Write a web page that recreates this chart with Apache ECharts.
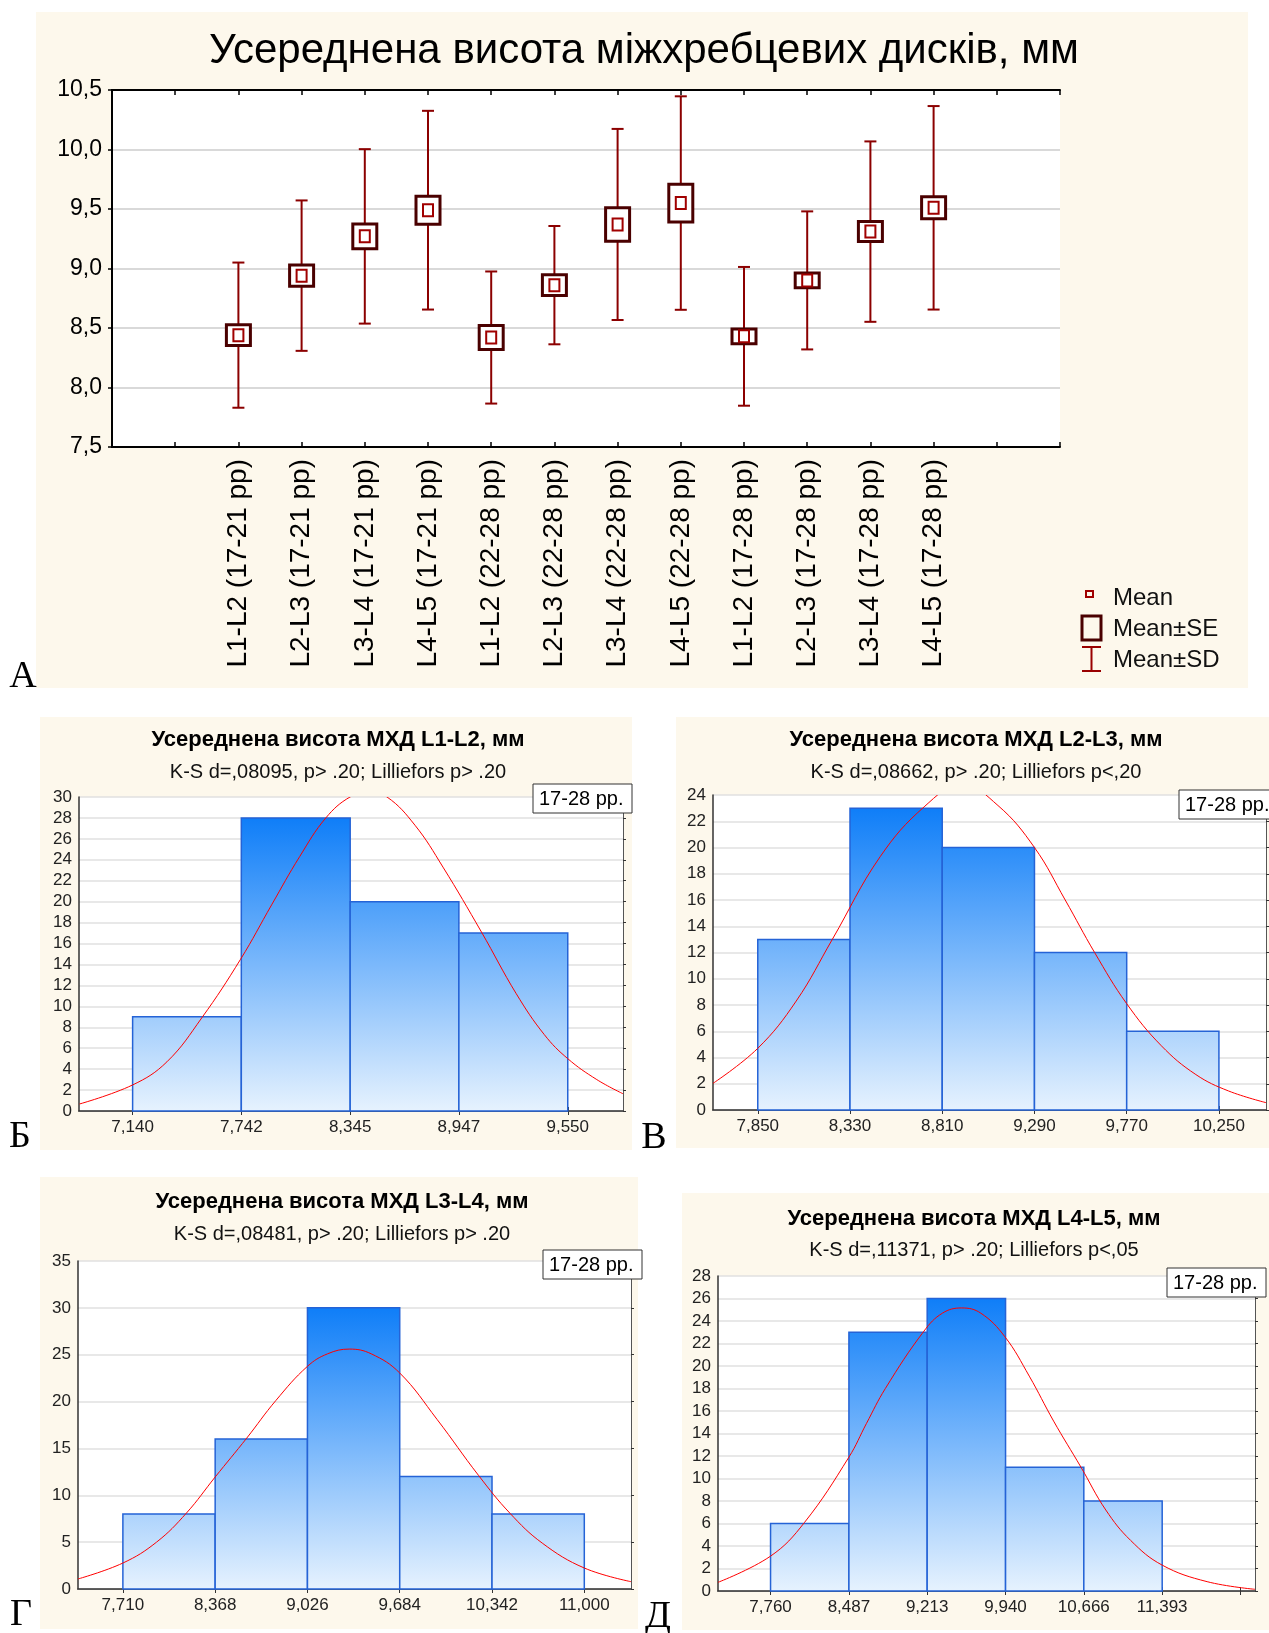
<!DOCTYPE html>
<html>
<head>
<meta charset="utf-8">
<title>Усереднена висота міжхребцевих дисків</title>
<script src="https://cdn.jsdelivr.net/npm/echarts@6/dist/echarts.min.js"></script>
<style>
  body { margin: 0; background: #fff; }
  #chart { width: 1269px; height: 1633px; }
</style>
</head>
<body>
<div id="chart"></div>
<script>
// Panel A - mean, standard error and standard deviation per disc / age group
const groupLabels = [
    'L1-L2 (17-21 рр)', 'L2-L3 (17-21 рр)', 'L3-L4 (17-21 рр)', 'L4-L5 (17-21 рр)',
    'L1-L2 (22-28 рр)', 'L2-L3 (22-28 рр)', 'L3-L4 (22-28 рр)', 'L4-L5 (22-28 рр)',
    'L1-L2 (17-28 рр)', 'L2-L3 (17-28 рр)', 'L3-L4 (17-28 рр)', 'L4-L5 (17-28 рр)'
];
const groupMeans = [8.44, 8.94, 9.27, 9.49, 8.42, 8.86, 9.37, 9.55, 8.43, 8.90, 9.31, 9.51];
const groupSE = [0.087, 0.090, 0.105, 0.118, 0.100, 0.087, 0.140, 0.159, 0.062, 0.062, 0.084, 0.092];
const groupSD = [0.610, 0.632, 0.733, 0.835, 0.555, 0.497, 0.803, 0.897, 0.583, 0.580, 0.758, 0.855];

// Histograms (17-28 pp.) - bin edges are the x tick labels, counts per bin
const l1l2Edges = [7.140, 7.742, 8.345, 8.947, 9.550];
const l1l2Counts = [9, 28, 20, 17];
const l1l2CurveX = [6.846, 7.140, 7.330, 7.523, 7.738, 7.910, 8.065, 8.210, 8.344, 8.447, 8.549, 8.704, 8.859, 9.072, 9.265, 9.420, 9.550, 9.711, 9.858];
const l1l2CurveY = [0.67, 2.49, 4.7, 8.9, 14.5, 19.7, 24.3, 28.0, 30.0, 30.4, 30.0, 27.3, 23.3, 17.1, 11.2, 7.3, 5.0, 3.0, 1.63];

const l2l3Edges = [7.850, 8.330, 8.810, 9.290, 9.770, 10.250];
const l2l3Counts = [13, 23, 20, 12, 6];
const l2l3CurveX = [7.617, 7.850, 8.050, 8.238, 8.487, 8.716, 8.912, 9.100, 9.290, 9.450, 9.603, 9.770, 9.950, 10.130, 10.300, 10.495];
const l2l3CurveY = [2.03, 4.7, 8.3, 13.0, 19.3, 23.1, 24.8, 23.2, 20.0, 16.0, 12.0, 8.1, 4.9, 2.7, 1.45, 0.56];

const l3l4Edges = [7.710, 8.368, 9.026, 9.684, 10.342, 11.000];
const l3l4Counts = [8, 16, 30, 12, 8];
const l3l4CurveX = [7.390, 7.710, 7.950, 8.163, 8.368, 8.593, 8.800, 9.026, 9.170, 9.324, 9.480, 9.684, 9.950, 10.247, 10.469, 10.700, 11.000, 11.333];
const l3l4CurveY = [1.07, 2.77, 5.0, 8.1, 11.95, 16.1, 20.1, 23.76, 25.1, 25.6, 25.1, 23.05, 18.1, 12.1, 8.1, 4.9, 2.24, 0.78];

const l4l5Edges = [7.760, 8.487, 9.213, 9.940, 10.666, 11.393];
const l4l5Ticks = [7.760, 8.487, 9.213, 9.940, 10.666, 11.393, 12.120];
const l4l5Counts = [6, 23, 26, 11, 8];
const l4l5CurveX = [7.2725, 7.760, 8.073, 8.487, 8.650, 8.825, 9.183, 9.355, 9.532, 9.710, 9.934, 10.160, 10.386, 10.640, 10.870, 11.100, 11.393, 11.810, 12.254];
const l4l5CurveY = [0.77, 3.1, 6.07, 11.9, 14.9, 18.0, 23.1, 24.7, 25.16, 24.7, 22.6, 19.1, 15.1, 11.0, 7.2, 4.5, 2.3, 0.83, 0.15];

const mainTitle = 'Усереднена висота міжхребцевих дисків, мм';
const groupBadge = '17-28 рр.';

const chart = echarts.init(document.getElementById('chart'));

const SANS = '"Liberation Sans", Arial, sans-serif';
const SERIF = '"Liberation Serif", "Times New Roman", serif';
const CREAM = '#fdf8ec';
function commaFixed (v, d) {
    return v.toFixed(d).replace('.', ',');
}

// Histogram panels: data plus where each one sits on the page
const histograms = [
    {
        title: 'Усереднена висота МХД L1-L2, мм', stats: 'K-S d=,08095, p> .20; Lilliefors p> .20',
        edges: l1l2Edges, ticks: l1l2Edges, counts: l1l2Counts, curveX: l1l2CurveX, curveY: l1l2CurveY,
        yMax: 30, yStep: 2, xMin: 6.843, xMax: 9.856,
        grid: { left: 79, top: 797, width: 544, height: 314 },
        panel: [40, 717, 592, 433], titleX: 338, titleY: 740, statsY: 772,
        badge: [533, 784], letter: ['Б', 20, 1137]
    },
    {
        title: 'Усереднена висота МХД L2-L3, мм', stats: 'K-S d=,08662, p> .20; Lilliefors p<,20',
        edges: l2l3Edges, ticks: l2l3Edges, counts: l2l3Counts, curveX: l2l3CurveX, curveY: l2l3CurveY,
        yMax: 24, yStep: 2, xMin: 7.617, xMax: 10.495,
        grid: { left: 713, top: 795, width: 553, height: 315 },
        panel: [676, 717, 593, 431], titleX: 976, titleY: 740, statsY: 772,
        badge: [1179, 790], letter: ['В', 654, 1138]
    },
    {
        title: 'Усереднена висота МХД L3-L4, мм', stats: 'K-S d=,08481, p> .20; Lilliefors p> .20',
        edges: l3l4Edges, ticks: l3l4Edges, counts: l3l4Counts, curveX: l3l4CurveX, curveY: l3l4CurveY,
        yMax: 35, yStep: 5, xMin: 7.390, xMax: 11.333,
        grid: { left: 78, top: 1261, width: 553, height: 328 },
        panel: [40, 1177, 598, 452], titleX: 342, titleY: 1202, statsY: 1234,
        badge: [543, 1250], letter: ['Г', 21, 1615]
    },
    {
        title: 'Усереднена висота МХД L4-L5, мм', stats: 'K-S d=,11371, p> .20; Lilliefors p<,05',
        edges: l4l5Edges, ticks: l4l5Ticks, counts: l4l5Counts, curveX: l4l5CurveX, curveY: l4l5CurveY,
        yMax: 28, yStep: 2, xMin: 7.2725, xMax: 12.254,
        grid: { left: 718, top: 1276, width: 537, height: 315 },
        panel: [682, 1193, 587, 437], titleX: 974, titleY: 1219, statsY: 1250,
        badge: [1167, 1268], letter: ['Д', 658, 1617]
    }
];

// Panel A error bar glyphs: whisker = SD, box = SE, small square = mean
function renderGroup (params, api) {
    const x = api.value(0), m = api.value(1), se = api.value(2), sd = api.value(3);
    const top = api.coord([x, m + sd]);
    const bot = api.coord([x, m - sd]);
    const seTop = api.coord([x, m + se]);
    const seBot = api.coord([x, m - se]);
    const c = api.coord([x, m]);
    const whisker = { stroke: '#8b0000', lineWidth: 2 };
    return {
        type: 'group',
        children: [
            { type: 'line', shape: { x1: top[0], y1: top[1], x2: bot[0], y2: bot[1] }, style: whisker },
            { type: 'line', shape: { x1: top[0] - 6, y1: top[1], x2: top[0] + 6, y2: top[1] }, style: whisker },
            { type: 'line', shape: { x1: bot[0] - 6, y1: bot[1], x2: bot[0] + 6, y2: bot[1] }, style: whisker },
            { type: 'rect', shape: { x: c[0] - 12, y: seTop[1], width: 24, height: seBot[1] - seTop[1] },
              style: { fill: '#fff', stroke: '#4a0000', lineWidth: 3 } },
            { type: 'rect', shape: { x: c[0] - 5, y: c[1] - 6, width: 10, height: 12 },
              style: { fill: '#fff', stroke: '#a00000', lineWidth: 2 } }
        ]
    };
}

// Histogram bars share one gradient running from the tallest bar down to zero
function makeBarRenderer (maxCount) {
    return function (params, api) {
        const p0 = api.coord([api.value(0), api.value(2)]);
        const p1 = api.coord([api.value(1), 0]);
        const yTop = api.coord([api.value(0), maxCount])[1];
        return {
            type: 'rect',
            shape: { x: p0[0], y: p0[1], width: p1[0] - p0[0], height: p1[1] - p0[1] },
            style: {
                fill: new echarts.graphic.LinearGradient(0, yTop, 0, p1[1], [
                    { offset: 0, color: '#0f7ef8' },
                    { offset: 1, color: '#e6f2fe' }
                ], true),
                stroke: '#2563d6',
                lineWidth: 1.5
            }
        };
    };
}

// Fitted normal curve: one smooth polyline through the read points, clipped to the plot
function makeCurveRenderer (xs, ys) {
    return function (params, api) {
        if (params.dataIndex !== 0) {
            return null;
        }
        const pts = xs.map((x, i) => api.coord([x, ys[i]]));
        const cs = params.coordSys;
        return {
            type: 'group',
            clipPath: { type: 'rect', shape: { x: cs.x, y: cs.y, width: cs.width, height: cs.height } },
            children: [{
                type: 'polyline',
                shape: { points: pts, smooth: 0.4 },
                style: { stroke: '#ff0000', lineWidth: 1, fill: 'none' }
            }]
        };
    };
}

const grids = [{ left: 112, top: 90, width: 948, height: 357, show: true, backgroundColor: '#fff', borderWidth: 0 }];
const xAxes = [
    {
        gridIndex: 0, type: 'value', min: 0, max: 15, interval: 1,
        axisLine: { lineStyle: { color: '#000', width: 2 } },
        axisTick: { inside: true, length: 5, lineStyle: { color: '#000', width: 1.5 } },
        axisLabel: {
            customValues: groupLabels.map((l, i) => i + 2),
            formatter: (v) => groupLabels[Math.round(v) - 2] || '',
            rotate: 90, margin: 12, fontSize: 28, fontFamily: SANS, color: '#000'
        },
        splitLine: { show: false }
    },
    {
        gridIndex: 0, type: 'value', position: 'top', min: 0, max: 15, interval: 1,
        axisLine: { lineStyle: { color: '#000', width: 2 } },
        axisTick: { inside: true, length: 5, lineStyle: { color: '#000', width: 1.5 } },
        axisLabel: { show: false }, splitLine: { show: false }
    }
];
const yAxes = [
    {
        gridIndex: 0, type: 'value', min: 7.5, max: 10.5, interval: 0.5,
        axisLine: { show: true, lineStyle: { color: '#000', width: 2 } },
        axisTick: { show: false },
        axisLabel: { formatter: (v) => commaFixed(v, 1), fontSize: 23, fontFamily: SANS, color: '#000', margin: 10 },
        splitLine: { show: true, lineStyle: { color: '#d9d9d9', width: 2 } }
    },
    {
        gridIndex: 0, type: 'value', position: 'right', min: 7.5, max: 10.5, interval: 0.5,
        axisLine: { show: true, lineStyle: { color: '#000', width: 2 } },
        axisTick: { show: true, inside: true, length: 4, lineStyle: { color: '#000', width: 1.5 } },
        axisLabel: { show: false }, splitLine: { show: false }
    }
];
const series = [
    {
        type: 'custom', xAxisIndex: 0, yAxisIndex: 0,
        data: groupMeans.map((m, i) => [i + 2, m, groupSE[i], groupSD[i]]),
        encode: { x: 0, y: 1 },
        renderItem: renderGroup
    }
];

histograms.forEach((h, k) => {
    grids.push(Object.assign({ show: true, backgroundColor: '#fff', borderWidth: 0 }, h.grid));
    const gi = k + 1;
    xAxes.push({
        gridIndex: gi, type: 'value', min: h.xMin, max: h.xMax,
        axisLine: { lineStyle: { color: '#333', width: 1.5 } },
        axisTick: { customValues: h.ticks, inside: true, length: 4, lineStyle: { color: '#333' } },
        axisLabel: { customValues: h.edges, formatter: (v) => commaFixed(v, 3), fontSize: 17, fontFamily: SANS, color: '#222', margin: 8 },
        splitLine: { show: false }
    });
    xAxes.push({
        gridIndex: gi, type: 'value', position: 'top', min: h.xMin, max: h.xMax,
        axisLine: { lineStyle: { color: '#555', width: 1 } },
        axisTick: { customValues: h.ticks, inside: true, length: 4, lineStyle: { color: '#333' } },
        axisLabel: { show: false }, splitLine: { show: false }
    });
    yAxes.push({
        gridIndex: gi, type: 'value', min: 0, max: h.yMax, interval: h.yStep,
        axisLine: { show: true, lineStyle: { color: '#333', width: 1.5 } },
        axisTick: { show: false },
        axisLabel: { fontSize: 17, fontFamily: SANS, color: '#222', margin: 7 },
        splitLine: { show: true, lineStyle: { color: '#e0e0e0', width: 1.5 } }
    });
    yAxes.push({
        gridIndex: gi, type: 'value', position: 'right', min: 0, max: h.yMax, interval: h.yStep,
        axisLine: { show: true, lineStyle: { color: '#555', width: 1 } },
        axisTick: { show: true, length: 3, lineStyle: { color: '#333' } },
        axisLabel: { show: false }, splitLine: { show: false }
    });
    series.push({
        type: 'custom', xAxisIndex: 2 + 2 * k, yAxisIndex: 2 + 2 * k,
        data: h.counts.map((c, i) => [h.edges[i], h.edges[i + 1], c]),
        encode: { x: [0, 1], y: 2 },
        renderItem: makeBarRenderer(Math.max(...h.counts))
    });
    series.push({
        type: 'custom', xAxisIndex: 2 + 2 * k, yAxisIndex: 2 + 2 * k, z: 5,
        data: h.curveX.map((x, i) => [x, h.curveY[i]]),
        encode: { x: 0, y: 1 },
        renderItem: makeCurveRenderer(h.curveX, h.curveY)
    });
});

// Page furniture: cream panels, titles, badges, panel letters, legend of panel A
const graphics = [
    { type: 'rect', z: -10, shape: { x: 36, y: 12, width: 1212, height: 676 }, style: { fill: CREAM } },
    { type: 'text', z: 100, x: 644, y: 51, style: { text: mainTitle, font: '42px ' + SANS, fill: '#000', textAlign: 'center', textVerticalAlign: 'middle' } },
    { type: 'text', z: 100, x: 23, y: 677, style: { text: 'А', font: '38px ' + SERIF, fill: '#000', textAlign: 'center', textVerticalAlign: 'middle' } },
    // legend
    { type: 'rect', z: 100, shape: { x: 1086, y: 591, width: 7, height: 6 }, style: { fill: 'none', stroke: '#a00000', lineWidth: 2 } },
    { type: 'rect', z: 100, shape: { x: 1082, y: 616, width: 19, height: 24 }, style: { fill: 'none', stroke: '#4a0000', lineWidth: 3 } },
    { type: 'line', z: 100, shape: { x1: 1091.5, y1: 647, x2: 1091.5, y2: 671 }, style: { stroke: '#990000', lineWidth: 2 } },
    { type: 'line', z: 100, shape: { x1: 1082, y1: 647, x2: 1101, y2: 647 }, style: { stroke: '#990000', lineWidth: 2 } },
    { type: 'line', z: 100, shape: { x1: 1082, y1: 671, x2: 1101, y2: 671 }, style: { stroke: '#990000', lineWidth: 2 } },
    { type: 'text', z: 100, x: 1113, y: 598, style: { text: 'Mean', font: '24px ' + SANS, fill: '#111', textVerticalAlign: 'middle' } },
    { type: 'text', z: 100, x: 1113, y: 629, style: { text: 'Mean±SE', font: '24px ' + SANS, fill: '#111', textVerticalAlign: 'middle' } },
    { type: 'text', z: 100, x: 1113, y: 660, style: { text: 'Mean±SD', font: '24px ' + SANS, fill: '#111', textVerticalAlign: 'middle' } }
];
histograms.forEach(h => {
    graphics.push(
        { type: 'rect', z: -10, shape: { x: h.panel[0], y: h.panel[1], width: h.panel[2], height: h.panel[3] }, style: { fill: CREAM } },
        { type: 'text', z: 100, x: h.titleX, y: h.titleY, style: { text: h.title, font: 'bold 22px ' + SANS, fill: '#000', textAlign: 'center', textVerticalAlign: 'middle' } },
        { type: 'text', z: 100, x: h.titleX, y: h.statsY, style: { text: h.stats, font: '20px ' + SANS, fill: '#111', textAlign: 'center', textVerticalAlign: 'middle' } },
        { type: 'rect', z: 100, shape: { x: h.badge[0], y: h.badge[1], width: 99, height: 29 }, style: { fill: '#fff', stroke: '#333', lineWidth: 1 } },
        { type: 'text', z: 101, x: h.badge[0] + 6, y: h.badge[1] + 15, style: { text: groupBadge, font: '20px ' + SANS, fill: '#000', textVerticalAlign: 'middle' } },
        { type: 'text', z: 100, x: h.letter[1], y: h.letter[2], style: { text: h.letter[0], font: '38px ' + SERIF, fill: '#000', textAlign: 'center', textVerticalAlign: 'middle' } }
    );
});

chart.setOption({
    animation: false,
    backgroundColor: '#fff',
    grid: grids,
    xAxis: xAxes,
    yAxis: yAxes,
    series: series,
    graphic: { elements: graphics }
});
</script>
</body>
</html>
